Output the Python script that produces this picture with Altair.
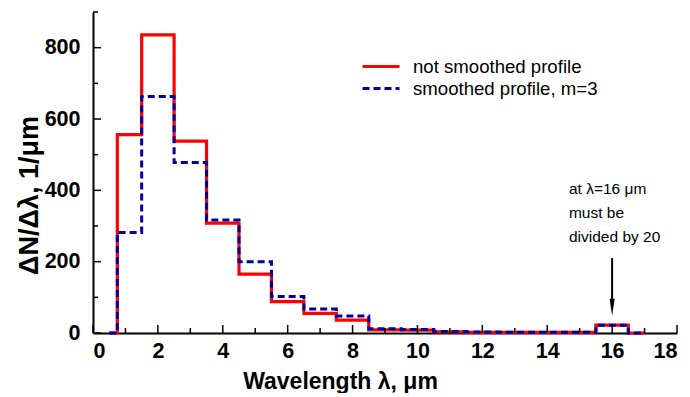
import altair as alt
import pandas as pd

# bin edges (µm) and histogram values (step profile)
edges = [0.5, 0.75, 1.5, 2.5, 3.5, 4.5, 5.5, 6.5, 7.5, 8.5, 9.5, 10.5, 11.5, 12.5, 13.5, 14.5, 15.5, 16.5, 17.0]
not_smoothed = [0, 556, 836, 538, 308, 165, 88, 55, 36, 9, 8, 3, 2, 2, 2, 2, 22, 0, 0]
smoothed = [0, 282, 663, 478, 317, 200, 102, 67, 48, 12, 10, 4, 3, 2, 2, 2, 22, 0, 0]
series_names = ["not smoothed profile", "smoothed profile, m=3"]

x_major = [0, 2, 4, 6, 8, 10, 12, 14, 16, 18]
x_minor = [1, 3, 5, 7, 9, 11, 13, 15, 17]
y_major = [0, 200, 400, 600, 800]
y_minor = [100, 300, 500, 700, 900]

note_lines = ["at λ=16 μm", "must be", "divided by 20"]
note_y = [405, 337, 270]
note_x = [14.67, 14.67, 14.67]
arrow_x = [16]
arrow_top = [210]
arrow_bottom = [95]
arrow_tip = [72]

FONT = "Liberation Sans"

rows = []
for e, v in zip(edges, not_smoothed):
    rows.append({"x": e, "y": v, "series": series_names[0]})
for e, v in zip(edges, smoothed):
    rows.append({"x": e, "y": v, "series": series_names[1]})
df = pd.DataFrame(rows)

xs = alt.Scale(domain=[0, 18], nice=False)
ys = alt.Scale(domain=[0, 900], nice=False)

color = alt.Color("series:N", scale=alt.Scale(domain=series_names, range=["#ff0000", "#0000a0"]),
                  legend=alt.Legend(title=None))
dash = alt.StrokeDash("series:N", scale=alt.Scale(domain=series_names, range=[[1, 0], [7, 4]]),
                      legend=alt.Legend(title=None))

xaxis = alt.Axis(values=x_major, ticks=False, grid=False, domainColor="black", domainWidth=2,
                 labelFont=FONT, labelFontWeight="bold", labelFontSize=21.5, labelColor="black",
                 labelPadding=7, title="Wavelength λ, μm", titleFont=FONT, titleFontWeight="bold",
                 titleFontSize=23, titleColor="black", titleX=247, titleY=55,
                 titleAlign="center", titleBaseline="alphabetic")
yaxis = alt.Axis(values=y_major, ticks=False, grid=False, domainColor="black", domainWidth=2,
                 labelFont=FONT, labelFontWeight="bold", labelFontSize=21.5, labelColor="black",
                 labelPadding=13, title="ΔN/Δλ, 1/μm", titleFont=FONT, titleFontWeight="bold",
                 titleFontSize=27, titleColor="black", titleX=-56, titleY=183, titleAngle=-90,
                 titleAlign="center", titleBaseline="alphabetic")

base = alt.Chart(df)
red = base.transform_filter(alt.datum.series == series_names[0]).mark_line(
    interpolate="step-after", strokeWidth=3.2).encode(
    x=alt.X("x:Q", scale=xs, axis=xaxis), y=alt.Y("y:Q", scale=ys, axis=yaxis),
    color=color, strokeDash=dash)
blue = base.transform_filter(alt.datum.series == series_names[1]).mark_line(
    interpolate="step-after", strokeWidth=3).encode(
    x=alt.X("x:Q", scale=xs), y=alt.Y("y:Q", scale=ys), color=color, strokeDash=dash)

H = 321
xmaj = alt.Chart(pd.DataFrame({"v": x_major})).mark_rule(color="black", strokeWidth=1.5).encode(
    x=alt.X("v:Q", scale=xs), y=alt.value(H), y2=alt.value(H - 8))
xmin = alt.Chart(pd.DataFrame({"v": x_minor})).mark_rule(color="black", strokeWidth=1.5).encode(
    x=alt.X("v:Q", scale=xs), y=alt.value(H), y2=alt.value(H - 5))
ymaj = alt.Chart(pd.DataFrame({"v": y_major})).mark_rule(color="black", strokeWidth=1.5).encode(
    y=alt.Y("v:Q", scale=ys), x=alt.value(0), x2=alt.value(8))
ymin = alt.Chart(pd.DataFrame({"v": y_minor})).mark_rule(color="black", strokeWidth=1.5).encode(
    y=alt.Y("v:Q", scale=ys), x=alt.value(0), x2=alt.value(5))

notes = alt.Chart(pd.DataFrame({"t": note_lines, "x": note_x, "y": note_y})).mark_text(
    align="left", baseline="middle", font=FONT, fontSize=15.5, color="black").encode(
    x=alt.X("x:Q", scale=xs), y=alt.Y("y:Q", scale=ys), text="t:N")
arrow_df = pd.DataFrame({"x": arrow_x, "y1": arrow_top, "y2": arrow_bottom, "tip": arrow_tip})
arrow_line = alt.Chart(arrow_df).mark_rule(color="black", strokeWidth=2).encode(
    x=alt.X("x:Q", scale=xs), y=alt.Y("y1:Q", scale=ys), y2="y2:Q")
arrow_head = alt.Chart(arrow_df).mark_point(
    shape="M-0.3,-1L0.3,-1L0,1Z", filled=True, color="black", opacity=1, size=289).encode(
    x=alt.X("x:Q", scale=xs), y=alt.Y("tip:Q", scale=ys))

chart = alt.layer(red, blue, xmaj, xmin, ymaj, ymin, notes, arrow_line, arrow_head).properties(
    width=584, height=H,
    autosize=alt.AutoSizeParams(type="none"),
    padding={"left": 85, "top": 4, "right": 5, "bottom": 60},
).configure_view(stroke=None).configure_legend(
    orient="none", legendX=268, legendY=45, labelFont=FONT, labelFontSize=18.6, labelColor="black",
    labelLimit=0, symbolType="stroke", symbolSize=1369, symbolStrokeWidth=3, labelOffset=12,
    rowPadding=2, clipHeight=19,
)

chart.save("out.html", embed_options={"renderer": "svg", "actions": False})
